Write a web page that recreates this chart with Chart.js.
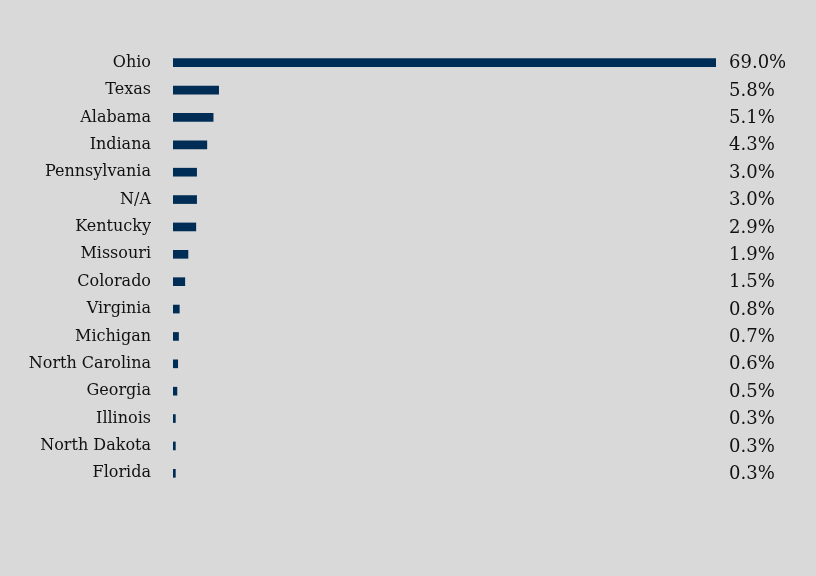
<!DOCTYPE html>
<html>
<head>
<meta charset="utf-8">
<script src="https://cdn.jsdelivr.net/npm/chart.js@4.4.1/dist/chart.umd.min.js"></script>
<style>
    html, body { margin: 0; padding: 0; background: #d9d9d9; }
    #chart-wrap { width: 816px; height: 576px; }
</style>
</head>
<body>
<div id="chart-wrap"><canvas id="states-chart" width="816" height="576"></canvas></div>
<script>
const states = [
    'Ohio', 'Texas', 'Alabama', 'Indiana', 'Pennsylvania', 'N/A', 'Kentucky',
    'Missouri', 'Colorado', 'Virginia', 'Michigan', 'North Carolina',
    'Georgia', 'Illinois', 'North Dakota', 'Florida',
];
const shares = [69.0, 5.8, 5.1, 4.3, 3.0, 3.0, 2.9, 1.9, 1.5, 0.8, 0.7, 0.6, 0.5, 0.3, 0.3, 0.3];

const serif = "'DejaVu Serif', 'Liberation Serif', serif";

function formatShare(value) {
    return value.toFixed(1) + '%';
}

// draws the percentage column to the right of the plot area
const valueColumn = {
    id: 'valueColumn',
    afterDatasetsDraw(chart) {
        const { ctx, chartArea } = chart;
        const meta = chart.getDatasetMeta(0);
        ctx.save();
        ctx.font = '18px ' + serif;
        ctx.fillStyle = '#111111';
        ctx.textAlign = 'left';
        ctx.textBaseline = 'middle';
        meta.data.forEach((bar, i) => {
            ctx.fillText(formatShare(shares[i]), chartArea.right + 13, bar.y + 1);
        });
        ctx.restore();
    },
};

new Chart(document.getElementById('states-chart'), {
    type: 'bar',
    data: {
        labels: states,
        datasets: [
            {
                data: shares,
                backgroundColor: '#002d55',
                borderWidth: 0,
                barThickness: 8,
            },
        ],
    },
    options: {
        indexAxis: 'y',
        responsive: false,
        animation: false,
        layout: {
            padding: { top: 49, bottom: 89, right: 100, left: 0 },
        },
        plugins: {
            legend: { display: false },
            tooltip: { enabled: false },
        },
        scales: {
            x: {
                display: false,
                min: 0,
                max: 69,
            },
            y: {
                afterFit(scale) {
                    scale.width = 173;
                },
                grid: { display: false, drawTicks: false },
                border: { display: false },
                ticks: {
                    padding: 22,
                    color: '#111111',
                    font: { family: serif, size: 16 },
                },
            },
        },
    },
    plugins: [valueColumn],
});
</script>
</body>
</html>
